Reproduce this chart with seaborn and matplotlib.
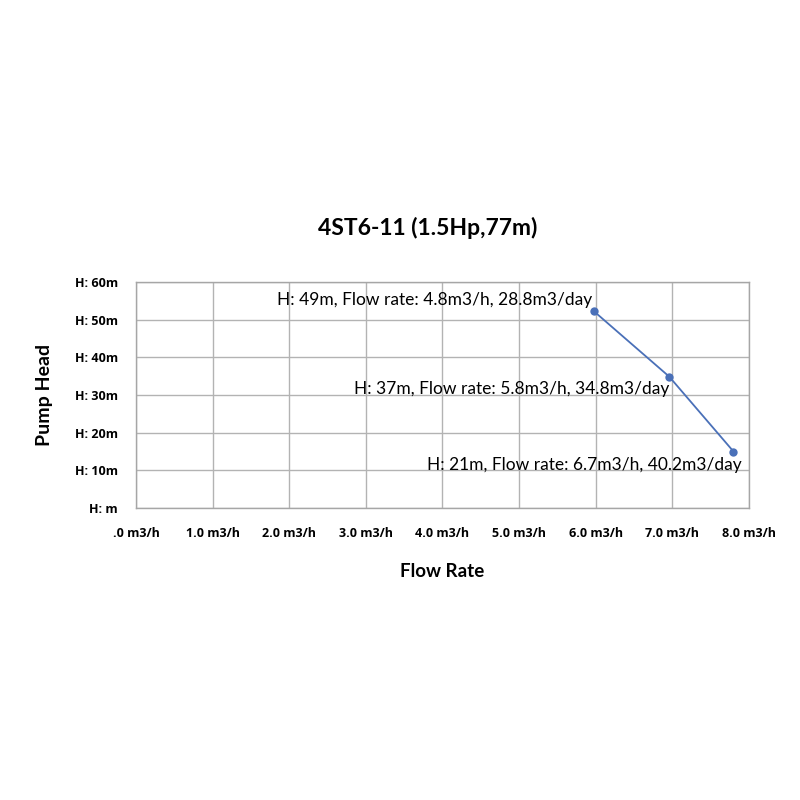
import numpy as np
import pandas as pd
import matplotlib
matplotlib.use('Agg')
import matplotlib.pyplot as plt
import seaborn as sns

sns.set_style('white')
plt.rcParams['font.family'] = ['Lato', 'DejaVu Sans']
plt.rcParams['text.color'] = 'black'
plt.rcParams['axes.labelcolor'] = 'black'
plt.rcParams['xtick.color'] = 'black'
plt.rcParams['ytick.color'] = 'black'

# data
flow = [5.98, 6.96, 7.80]
head = [52.2, 34.9, 15.0]
point_labels = ['H: 49m, Flow rate: 4.8m3/h, 28.8m3/day',
                'H: 37m, Flow rate: 5.8m3/h, 34.8m3/day',
                'H: 21m, Flow rate: 6.7m3/h, 40.2m3/day']
x_ticks = [0, 1, 2, 3, 4, 5, 6, 7, 8]
x_ticklabels = ['.0 m3/h', '1.0 m3/h', '2.0 m3/h', '3.0 m3/h', '4.0 m3/h',
                '5.0 m3/h', '6.0 m3/h', '7.0 m3/h', '8.0 m3/h']
y_ticks = [0, 10, 20, 30, 40, 50, 60]
y_ticklabels = ['H: m', 'H: 10m', 'H: 20m', 'H: 30m', 'H: 40m', 'H: 50m', 'H: 60m']

df = pd.DataFrame({'flow': flow, 'head': head})

fig = plt.figure(figsize=(8, 8), dpi=100)
ax = fig.add_axes([0.17, 0.365, 0.766, 0.2825])

sns.lineplot(data=df, x='flow', y='head', ax=ax, color='#4a70b8', lw=1.3,
             marker='o', markersize=6, markeredgewidth=0)

ax.set_xlim(0, 8)
ax.set_ylim(0, 60)
ax.set_xticks(x_ticks)
ax.set_xticklabels(x_ticklabels, fontsize=9, fontweight='bold', family='Open Sans')
ax.set_yticks(y_ticks)
ax.set_yticklabels(y_ticklabels, fontsize=9, fontweight='bold', family='Open Sans')
ax.tick_params(axis='x', length=0, pad=14)
ax.tick_params(axis='y', length=0, pad=13)
ax.grid(True, color='#b3b3b3', lw=1)
for s in ax.spines.values():
    s.set_color('#a6a6a6')
    s.set_linewidth(1)

# point labels, right aligned just left of each point
offsets = [(-1, 8), (0, -9), (6, -10)]
for x, y, lab, off in zip(flow, head, point_labels, offsets):
    ax.annotate(lab, (x, y), xytext=off, textcoords='offset points',
                ha='right', va='center', fontsize=12.5, color='black')

ax.set_xlabel('Flow Rate', fontsize=13.5, fontweight='bold', labelpad=16)
ax.set_ylabel('Pump Head', fontsize=14, fontweight='bold', labelpad=16)
fig.text(0.535, 0.715, '4ST6-11 (1.5Hp,77m)', ha='center', va='center',
         fontsize=16.5, fontweight='bold')

fig.savefig('out.png', dpi=100)
